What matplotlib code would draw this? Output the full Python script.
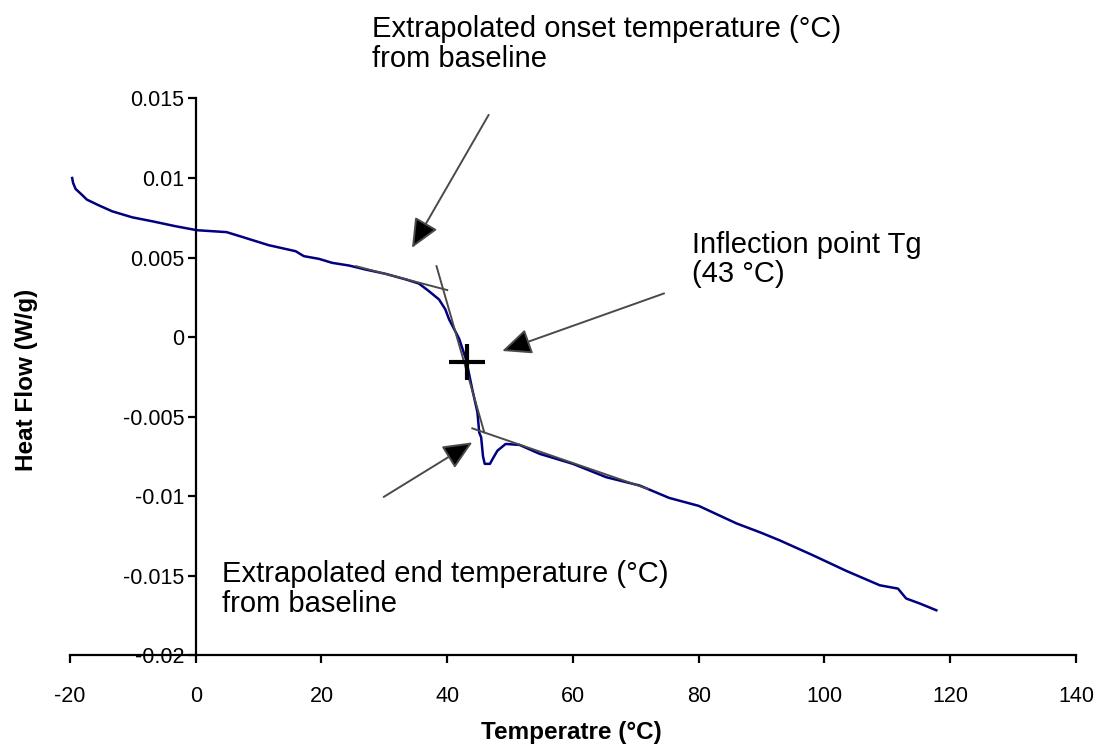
import matplotlib
matplotlib.use("Agg")
import matplotlib.pyplot as plt

plt.rcParams['font.family'] = ['Liberation Sans', 'DejaVu Sans']

# DSC curve
temp = [-19.65, -19.5, -19.1, -18.3, -17.3, -15.4, -13.3, -10.1, -6.9, -3.2, 0.2,
        4.9, 7.3, 11.6, 15.9, 17.2, 19.6, 21.7, 24.4, 27.0, 30.2, 33.4, 35.5, 37.1,
        38.7, 39.7, 40.3, 41.9, 43.0, 44.0, 44.8, 45.1, 45.4, 45.7, 45.97, 46.8,
        47.3, 48.0, 49.3, 51.5, 54.7, 60.0, 65.3, 70.6, 75.3, 80.0, 86.0, 90.0,
        92.9, 98.2, 103.5, 108.8, 111.7, 113.0, 115.2, 117.8]
heat_flow = [0.0100, 0.00969, 0.00931, 0.00902, 0.00864, 0.00828, 0.00791, 0.00753,
             0.00728, 0.00697, 0.00672, 0.00660, 0.00631, 0.00578, 0.00540, 0.00509,
             0.00492, 0.00467, 0.00450, 0.00425, 0.00398, 0.00363, 0.00337, 0.00289,
             0.00237, 0.00175, 0.00112, -0.0001, -0.0014, -0.0033, -0.0047, -0.0060,
             -0.00629, -0.0075, -0.00796, -0.00796, -0.0076, -0.00713, -0.00671,
             -0.00677, -0.00733, -0.00796, -0.0088, -0.00932, -0.0101, -0.0106,
             -0.0117, -0.0123, -0.01277, -0.01371, -0.01469, -0.01559, -0.0158,
             -0.01642, -0.01674, -0.01716]

# tangent lines (x pairs, y pairs)
tangent_onset_x = [25.5, 40.0]
tangent_onset_y = [0.00446, 0.00296]
tangent_steep_x = [38.3, 45.9]
tangent_steep_y = [0.00446, -0.00598]
tangent_end_x = [44.0, 71.9]
tangent_end_y = [-0.00573, -0.00953]

tg_x, tg_y = 43.1, -0.00157

x_ticks = [-20, 0, 20, 40, 60, 80, 100, 120, 140]
x_labels = ['-20', '0', '20', '40', '60', '80', '100', '120', '140']
y_ticks = [0.015, 0.01, 0.005, 0, -0.005, -0.01, -0.015, -0.02]
y_labels = ['0.015', '0.01', '0.005', '0', '-0.005', '-0.01', '-0.015', '-0.02']

fig = plt.figure(figsize=(11, 7.44), dpi=100)
ax = fig.add_axes([0.0636, 0.119, 0.9145, 0.7487])

ax.plot(temp, heat_flow, color='#000080', lw=1.8, zorder=3)

line_gray = '#4a4a4a'
ax.plot(tangent_onset_x, tangent_onset_y, color=line_gray, lw=1.4, zorder=4)
ax.plot(tangent_steep_x, tangent_steep_y, color=line_gray, lw=1.4, zorder=4)
ax.plot(tangent_end_x, tangent_end_y, color=line_gray, lw=1.4, zorder=4)

ax.plot([tg_x], [tg_y], marker='+', ms=26, mew=3, color='black', zorder=5)

arrow = dict(arrowstyle='-|>,head_length=0.9,head_width=0.4', lw=1.4,
             ec=line_gray, fc='black', shrinkA=0, shrinkB=0, mutation_scale=20)
ax.annotate('', xy=(34.4, 0.00561), xytext=(46.6, 0.01397), arrowprops=arrow,
            annotation_clip=False)
ax.annotate('', xy=(48.75, -0.000868), xytext=(74.5, 0.00275), arrowprops=arrow,
            annotation_clip=False)
ax.annotate('', xy=(44.0, -0.00661), xytext=(29.9, -0.01004), arrowprops=arrow,
            annotation_clip=False)

fs = 21
ax.text(28.05, 0.018854, 'Extrapolated onset temperature (°C)', fontsize=fs,
        va='baseline', ha='left', clip_on=False)
ax.text(28.05, 0.016974, 'from baseline', fontsize=fs, va='baseline', ha='left',
        clip_on=False)
ax.text(78.9, 0.005318, 'Inflection point Tg', fontsize=fs, va='baseline', ha='left')
ax.text(78.9, 0.003438, '(43 °C)', fontsize=fs, va='baseline', ha='left')
ax.text(4.2, -0.015363, 'Extrapolated end temperature (°C)', fontsize=fs,
        va='baseline', ha='left')
ax.text(4.2, -0.017243, 'from baseline', fontsize=fs, va='baseline', ha='left')

ax.set_xlim(-20, 140)
ax.set_ylim(-0.02, 0.015)
ax.spines['top'].set_visible(False)
ax.spines['right'].set_visible(False)
ax.spines['left'].set_position(('data', 0))
ax.spines['left'].set_linewidth(1.6)
ax.spines['bottom'].set_linewidth(1.6)

ax.set_xticks(x_ticks)
ax.set_xticklabels(x_labels)
ax.set_yticks(y_ticks)
ax.set_yticklabels(y_labels)
ax.tick_params(axis='x', direction='out', length=6, width=1.6, pad=16, labelsize=15.5)
ax.tick_params(axis='y', direction='out', length=6, width=1.6, pad=2, labelsize=15.5)

fig.text(571 / 1100, 1 - 733 / 744, 'Temperatre (°C)', fontsize=17.5,
         fontweight='bold', ha='center', va='center')
fig.text(27 / 1100, 1 - 380 / 744, 'Heat Flow (W/g)', fontsize=17.5,
         fontweight='bold', ha='center', va='center', rotation=90)

fig.savefig('out.png', dpi=100)
